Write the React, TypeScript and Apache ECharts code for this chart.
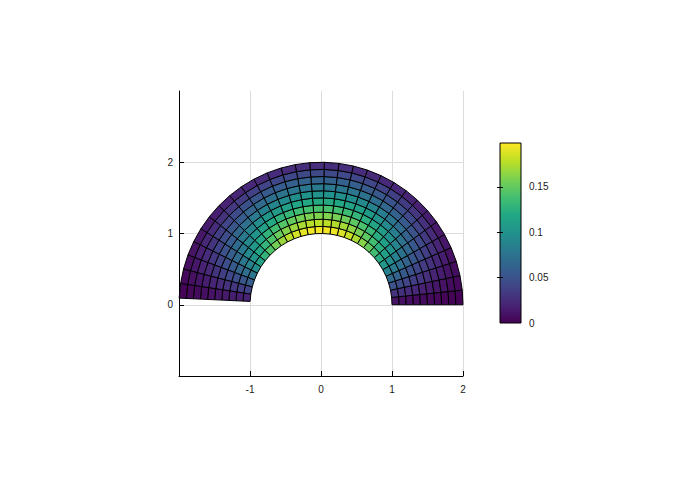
import React, { useEffect, useRef } from "react";
import * as echarts from "echarts";

// Mesh definition: radial ring edges and angular extent (30 angular cells)
const radialEdges = [1.0, 1.1, 1.2, 1.3, 1.4, 1.5, 1.6, 1.7, 1.8, 1.9, 2.0];
const angularCells = 30;
const angleEnd = 3.095;

// Cell values: rows = rings (inner -> outer), cols = angular cells (theta 0 -> pi)
const ring0 = [0.010,0.030,0.050,0.069,0.088,0.105,0.122,0.137,0.151,0.163,0.173,0.182,0.188,0.193,0.195,0.196,0.194,0.191,0.185,0.177,0.168,0.156,0.143,0.129,0.113,0.096,0.078,0.059,0.039,0.019];
const ring1 = [0.009,0.027,0.045,0.063,0.080,0.096,0.111,0.124,0.137,0.148,0.157,0.165,0.171,0.175,0.178,0.178,0.177,0.173,0.168,0.161,0.152,0.142,0.130,0.117,0.102,0.087,0.071,0.053,0.036,0.017];
const ring2 = [0.008,0.025,0.041,0.056,0.072,0.086,0.099,0.112,0.123,0.133,0.141,0.148,0.154,0.157,0.160,0.160,0.159,0.156,0.151,0.145,0.137,0.128,0.117,0.105,0.092,0.078,0.064,0.048,0.032,0.016];
const ring3 = [0.007,0.022,0.036,0.049,0.063,0.075,0.087,0.098,0.108,0.116,0.124,0.130,0.135,0.138,0.140,0.140,0.139,0.136,0.132,0.127,0.120,0.112,0.102,0.092,0.081,0.068,0.056,0.042,0.028,0.014];
const ring4 = [0.006,0.018,0.031,0.042,0.054,0.065,0.075,0.084,0.092,0.100,0.106,0.111,0.115,0.118,0.120,0.120,0.119,0.117,0.113,0.108,0.103,0.096,0.088,0.079,0.069,0.059,0.048,0.036,0.024,0.012];
const ring5 = [0.005,0.015,0.026,0.035,0.045,0.054,0.062,0.070,0.077,0.083,0.088,0.093,0.096,0.098,0.100,0.100,0.099,0.097,0.094,0.090,0.086,0.080,0.073,0.066,0.058,0.049,0.040,0.030,0.020,0.010];
const ring6 = [0.004,0.012,0.020,0.028,0.036,0.043,0.050,0.056,0.062,0.066,0.071,0.074,0.077,0.079,0.080,0.080,0.079,0.078,0.076,0.072,0.068,0.064,0.058,0.053,0.046,0.039,0.032,0.024,0.016,0.008];
const ring7 = [0.003,0.010,0.016,0.022,0.028,0.033,0.039,0.043,0.048,0.051,0.055,0.057,0.060,0.061,0.062,0.062,0.062,0.060,0.058,0.056,0.053,0.049,0.045,0.041,0.036,0.030,0.025,0.019,0.012,0.006];
const ring8 = [0.002,0.007,0.011,0.016,0.020,0.024,0.027,0.031,0.034,0.037,0.039,0.041,0.042,0.043,0.044,0.044,0.044,0.043,0.042,0.040,0.038,0.035,0.032,0.029,0.025,0.022,0.018,0.013,0.009,0.004];
const ring9 = [0.001,0.004,0.007,0.009,0.012,0.014,0.016,0.018,0.020,0.022,0.023,0.024,0.025,0.026,0.026,0.026,0.026,0.025,0.025,0.024,0.022,0.021,0.019,0.017,0.015,0.013,0.010,0.008,0.005,0.003];
const cellValues = [ring0, ring1, ring2, ring3, ring4, ring5, ring6, ring7, ring8, ring9];

const xTicks = [-1, 0, 1, 2];
const yTicks = [0, 1, 2];
const colorMin = 0;
const colorMax = 0.1985;
const colorTicks = [0, 0.05, 0.1, 0.15];

const viridis = ["#440154", "#482475", "#414487", "#355f8d", "#2a788e", "#21918c", "#22a884", "#44bf70", "#7ad151", "#bddf26", "#fde725"];

const FONT = "'Liberation Sans', Arial, sans-serif";

export default function App() {
  const ref = useRef<HTMLDivElement>(null);
  useEffect(() => {
    if (!ref.current) return;
    const chart = echarts.init(ref.current, undefined, { renderer: "svg" });
    const angleEdges: number[] = [];
    for (let j = 0; j <= angularCells; j++) angleEdges.push((j * angleEnd) / angularCells);

    const data: number[][] = [];
    cellValues.forEach((row, i) => row.forEach((v, j) => data.push([i, j, v])));

    const labelStyle = { color: "#1a1a1a", fontSize: 10, fontFamily: FONT };

    chart.setOption({
      animation: false,
      backgroundColor: "#fff",
      grid: [
        { left: 179, top: 91, width: 284, height: 285 },
        { left: 500, top: 143, width: 21, height: 180 },
      ],
      xAxis: [
        {
          type: "value", gridIndex: 0, min: -2, max: 2, interval: 1,
          axisLine: { show: true, onZero: false, lineStyle: { color: "#000", width: 1 } },
          axisTick: { show: true, inside: true, length: 5, customValues: xTicks, lineStyle: { color: "#000" } },
          axisLabel: { ...labelStyle, margin: 8, customValues: xTicks },
          splitLine: { show: true, lineStyle: { color: "#dcdcdc", width: 1 } },
        },
        { type: "value", gridIndex: 1, min: 0, max: 1, show: false },
      ],
      yAxis: [
        {
          type: "value", gridIndex: 0, min: -1, max: 3, interval: 1,
          axisLine: { show: true, onZero: false, lineStyle: { color: "#000", width: 1 } },
          axisTick: { show: true, inside: true, length: 5, customValues: yTicks, lineStyle: { color: "#000" } },
          axisLabel: { ...labelStyle, margin: 6, customValues: yTicks },
          splitLine: { show: true, lineStyle: { color: "#dcdcdc", width: 1 } },
        },
        {
          type: "value", gridIndex: 1, min: colorMin, max: colorMax, position: "right",
          axisLine: { show: false },
          axisTick: { show: true, inside: true, length: 3, customValues: [0.05, 0.1, 0.15], lineStyle: { color: "#000" } },
          axisLabel: { ...labelStyle, margin: 8, customValues: colorTicks },
          splitLine: { show: false },
          z: 5,
        },
        {
          type: "value", gridIndex: 1, min: colorMin, max: colorMax, position: "left",
          axisLine: { show: false },
          axisTick: { show: true, inside: true, length: 3, customValues: [0.05, 0.1, 0.15], lineStyle: { color: "#000" } },
          axisLabel: { show: false },
          splitLine: { show: false },
          z: 5,
        },
      ],
      visualMap: {
        type: "continuous", show: false, min: colorMin, max: colorMax,
        dimension: 2, seriesIndex: 0, inRange: { color: viridis },
      },
      series: [
        {
          type: "custom", xAxisIndex: 0, yAxisIndex: 0, data,
          renderItem: (params: any, api: any) => {
            const i = api.value(0);
            const j = api.value(1);
            const r0 = radialEdges[i], r1 = radialEdges[i + 1];
            const t0 = angleEdges[j], t1 = angleEdges[j + 1];
            const pts = [
              api.coord([r0 * Math.cos(t0), r0 * Math.sin(t0)]),
              api.coord([r1 * Math.cos(t0), r1 * Math.sin(t0)]),
              api.coord([r1 * Math.cos(t1), r1 * Math.sin(t1)]),
              api.coord([r0 * Math.cos(t1), r0 * Math.sin(t1)]),
            ];
            return {
              type: "polygon",
              shape: { points: pts },
              style: { fill: api.visual("color"), stroke: "#000", lineWidth: 1 },
            };
          },
        },
        {
          type: "custom", xAxisIndex: 1, yAxisIndex: 1, data: [[0, colorMin, 1, colorMax]],
          z: 1,
          renderItem: (params: any, api: any) => {
            const p0 = api.coord([api.value(0), api.value(3)]);
            const p1 = api.coord([api.value(2), api.value(1)]);
            const n = viridis.length - 1;
            const stops = viridis.map((c, k) => ({ offset: k / n, color: viridis[n - k] }));
            return {
              type: "rect",
              shape: { x: p0[0], y: p0[1], width: p1[0] - p0[0], height: p1[1] - p0[1] },
              style: {
                fill: new echarts.graphic.LinearGradient(0, 0, 0, 1, stops),
                stroke: "#000", lineWidth: 1,
              },
            };
          },
        },
      ],
    });
    return () => chart.dispose();
  }, []);
  return <div ref={ref} style={{ position: "absolute", left: 0, top: 0, width: 674, height: 488 }} />;
}
